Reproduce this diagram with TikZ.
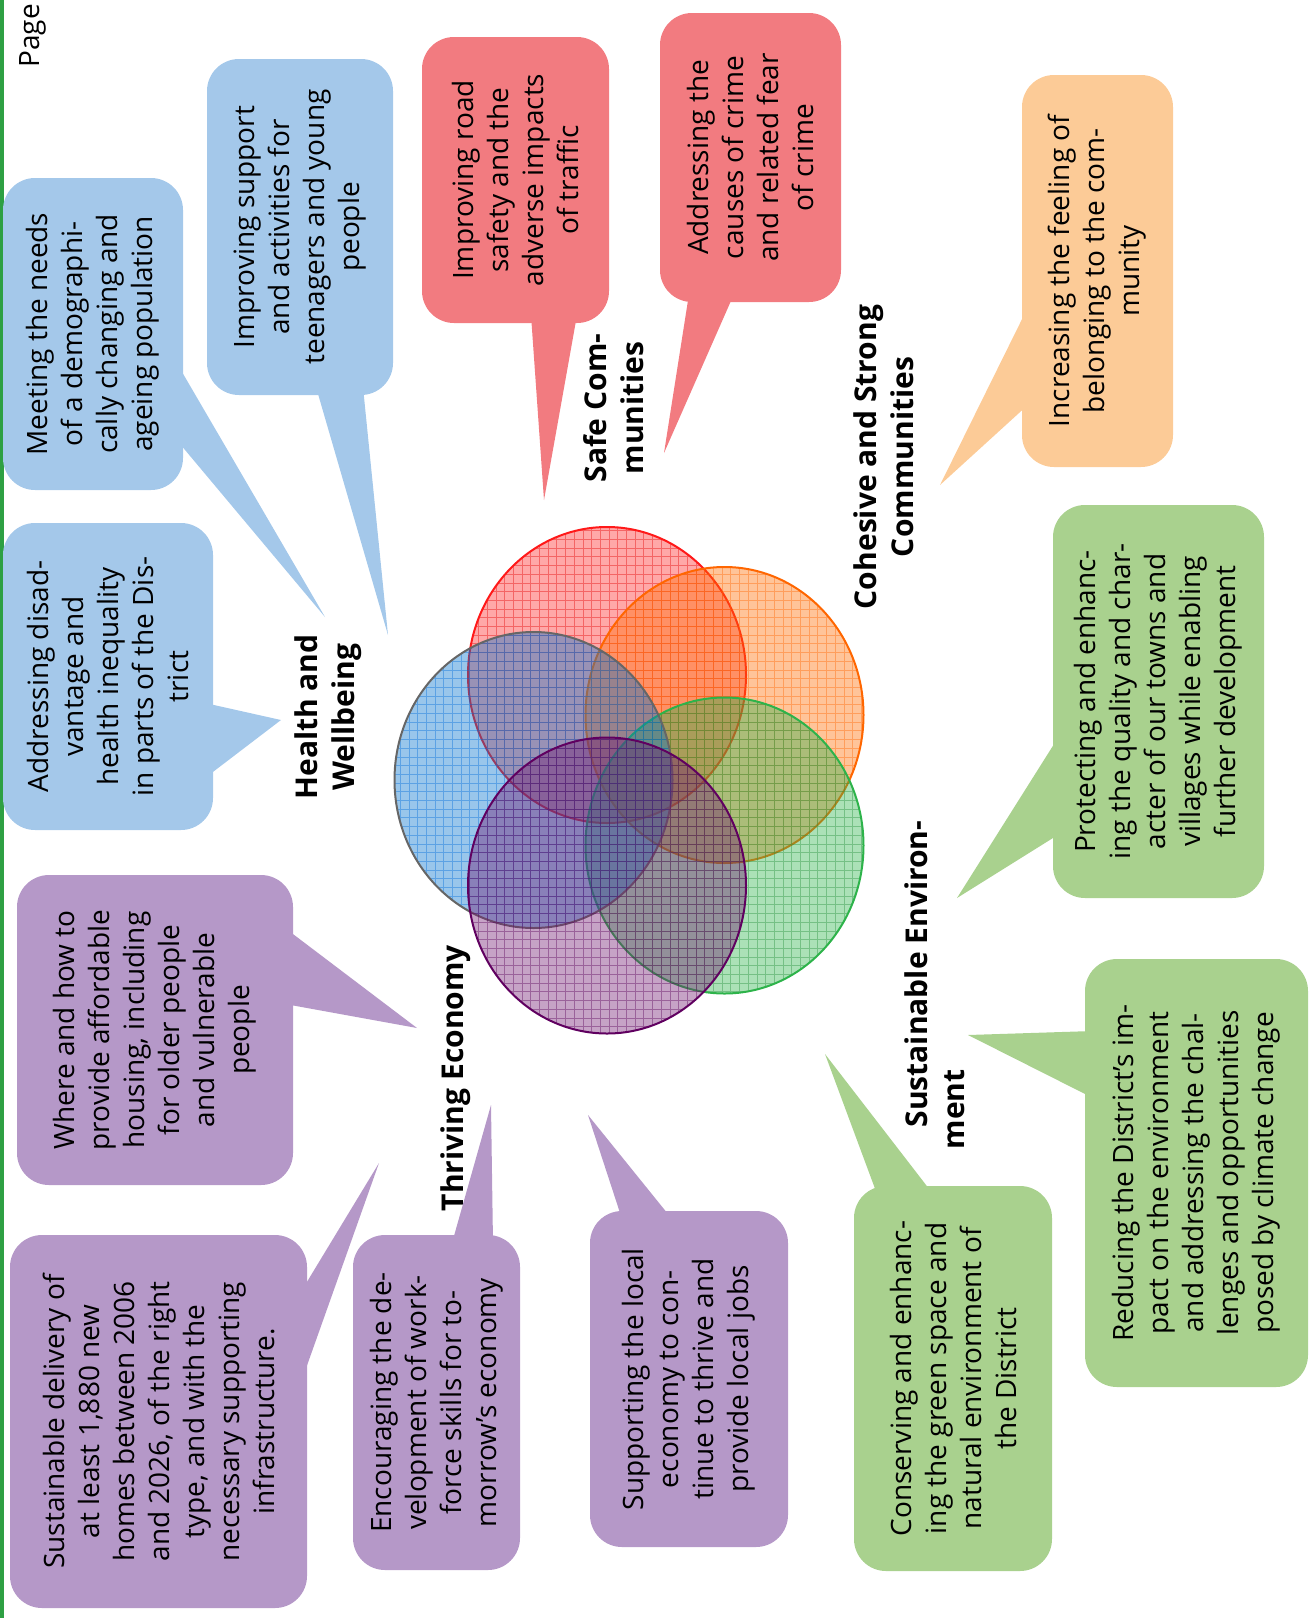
\documentclass[tikz,border=0pt]{standalone}
\usepackage{fontspec}
\setmainfont{Open Sans}
\usetikzlibrary{positioning,calc}
\definecolor{hwblue}{HTML}{A4C8EA}
\definecolor{scred}{HTML}{F27B80}
\definecolor{csorange}{HTML}{FCCB97}
\definecolor{segreen}{HTML}{A9D18E}
\definecolor{tepurple}{HTML}{B598C8}
\definecolor{pagegreen}{HTML}{2EA043}
\definecolor{ringgreen}{HTML}{2DB34A}
\tikzset{
  bubble/.style={rounded corners=16pt, rotate=90, align=center, inner sep=0pt,
    font=\fontsize{14}{17.5}\selectfont},
  theme/.style={rotate=90, align=center, inner sep=0pt,
    font=\fontsize{15}{18.5}\selectfont\bfseries},
}

\begin{document}
\begin{tikzpicture}[x=0.5pt, y=-0.5pt]
  \useasboundingbox (0,0) rectangle (1310,1618);
  \fill[pagegreen] (0,0) rectangle (3.5,1618);
  \node[rotate=90, anchor=west, inner sep=0pt, font=\fontsize{14}{17}\selectfont] (page) at (33,68) {Page};

  \foreach \cx/\cy/\cf/\cg/\cl in {607/675/red!80!pink/red!90!black/red!90,
      724.5/715/orange!85!red/orange!80!red/orange!80!red,
      724.5/845.5/ringgreen/ringgreen!80!black/ringgreen,
      533.5/780/blue!45!cyan!80!black/blue!50!cyan!85!black/gray!80!black,
      607/885.5/violet!75!black!90/violet!70!black/violet!75!black} {
    \fill[\cf, fill opacity=0.4] (\cx,\cy) ellipse[x radius=69.5pt, y radius=74pt];
    \begin{scope}
      \clip (\cx,\cy) ellipse[x radius=69.5pt, y radius=74pt];
      \draw[\cg, opacity=0.4, line width=0.4pt, step=4.35pt] (\cx-150,\cy-160) grid (\cx+150,\cy+160);
    \end{scope}
    \draw[\cl, line width=1pt] (\cx,\cy) ellipse[x radius=69.5pt, y radius=74pt];
  }

  \node[theme] (health) at (328,717) {Health and\\Wellbeing};
  \node[theme] (safe) at (614,408) {Safe Com-\\munities};
  \node[theme] (cohesive) at (884,457) {Cohesive and Strong\\Communities};
  \node[theme, align=left] (environ) at (935,985) {\hspace*{11pt}Sustainable Environ-\\ment};
  \node[theme] (economy) at (456,1078) {Thriving Economy};

  \node[bubble, fill=hwblue, minimum width=156pt, minimum height=90pt] (needs) at (93,334)
    {Meeting the needs\\of a demographi-\\cally changing and\\ageing population};
  \node[bubble, fill=hwblue, minimum width=168pt, minimum height=93pt] (teens) at (300,227)
    {Improving support\\and activities for\\teenagers and young\\people};
  \node[bubble, fill=hwblue, minimum width=153.5pt, minimum height=105pt] (inequality) at (108,676.5)
    {Addressing disad-\\vantage and\\health inequality\\in parts of the Dis-\\trict};
  \node[bubble, fill=scred, minimum width=143pt, minimum height=93.5pt] (road) at (515.5,180)
    {Improving road\\safety and the\\adverse impacts\\of traffic};
  \node[bubble, fill=scred, minimum width=144.5pt, minimum height=90.5pt] (crime) at (750.5,157.5)
    {Addressing the\\causes of crime\\and related fear\\of crime};
  \node[bubble, fill=csorange, minimum width=196pt, minimum height=75.5pt] (belonging) at (1097.5,271)
    {Increasing the feeling of\\belonging to the com-\\munity};
  \node[bubble, fill=segreen, minimum width=196.5pt, minimum height=105.5pt] (character) at (1158.5,701.5)
    {Protecting and enhanc-\\ing the quality and char-\\acter of our towns and\\villages while enabling\\further development};
  \node[bubble, fill=segreen, minimum width=214pt, minimum height=111.5pt] (climate) at (1196.5,1173)
    {Reducing the District’s im-\\pact on the environment\\and addressing the chal-\\lenges and opportunities\\posed by climate change};
  \node[bubble, fill=segreen, minimum width=192.5pt, minimum height=99pt] (greenspace) at (953,1378.5)
    {Conserving and enhanc-\\ing the green space and\\natural environment of\\the District};
  \node[bubble, fill=tepurple, minimum width=155pt, minimum height=138pt] (housing) at (155,1030)
    {Where and how to\\provide affordable\\housing, including\\for older people\\and vulnerable\\people};
  \node[bubble, fill=tepurple, minimum width=186.5pt, minimum height=148.5pt] (homes) at (158.5,1421.5)
    {Sustainable delivery of\\at least 1,880 new\\homes between 2006\\and 2026, of the right\\type, and with the\\necessary supporting\\infrastructure.};
  \node[bubble, fill=tepurple, minimum width=167.5pt, minimum height=83.5pt] (skills) at (436.5,1402.5)
    {Encouraging the de-\\velopment of work-\\force skills for to-\\morrow’s economy};
  \node[bubble, fill=tepurple, minimum width=168pt, minimum height=99pt] (jobs) at (689,1379)
    {Supporting the local\\economy to con-\\tinue to thrive and\\provide local jobs};

  \coordinate (needs tip) at (325,617);
  \coordinate (teens tip) at (388,635);
  \coordinate (inequality tip) at (281,720);
  \coordinate (road tip) at (544,500);
  \coordinate (crime tip) at (664,453);
  \coordinate (belonging tip) at (940,485);
  \coordinate (character tip) at (957,898);
  \coordinate (climate tip) at (968,1035);
  \coordinate (greenspace tip) at (825,1054);
  \coordinate (housing tip) at (417,1028);
  \coordinate (homes tip) at (379,1163);
  \coordinate (skills tip) at (491,1105);
  \coordinate (jobs tip) at (588,1115);

  \fill[hwblue] ($(needs)+(82,26)$) -- (needs tip) -- ($(needs)+(82,104)$) -- cycle;
  \fill[hwblue] ($(teens)+(16,160)$) -- (teens tip) -- ($(teens)+(63,160)$) -- cycle;
  \fill[hwblue] ($(inequality)+(97,26.5)$) -- (inequality tip) -- ($(inequality)+(97,101.5)$) -- cycle;
  \fill[scred] ($(road)+(15.5,135)$) -- (road tip) -- ($(road)+(61.5,135)$) -- cycle;
  \fill[scred] ($(crime)+(-61.5,136.5)$) -- (crime tip) -- ($(crime)+(-16.5,136.5)$) -- cycle;
  \fill[csorange] ($(belonging)+(-67.5,32)$) -- (belonging tip) -- ($(belonging)+(-67.5,132)$) -- cycle;
  \fill[segreen] ($(character)+(-97.5,31.5)$) -- (character tip) -- ($(character)+(-97.5,131.5)$) -- cycle;
  \fill[segreen] ($(climate)+(-103.5,-142)$) -- (climate tip) -- ($(climate)+(-103.5,-75)$) -- cycle;
  \fill[segreen] ($(greenspace)+(-76,-184.5)$) -- (greenspace tip) -- ($(greenspace)+(-20,-184.5)$) -- cycle;
  \fill[tepurple] ($(housing)+(130,-102)$) -- (housing tip) -- ($(housing)+(130,-26)$) -- cycle;
  \fill[tepurple] ($(homes)+(140.5,-126.5)$) -- (homes tip) -- ($(homes)+(140.5,-33.5)$) -- cycle;
  \fill[tepurple] ($(skills)+(15.5,-159.5)$) -- (skills tip) -- ($(skills)+(56.5,-159.5)$) -- cycle;
  \fill[tepurple] ($(jobs)+(-67,-160)$) -- (jobs tip) -- ($(jobs)+(-17,-160)$) -- cycle;
\end{tikzpicture}
\end{document}
